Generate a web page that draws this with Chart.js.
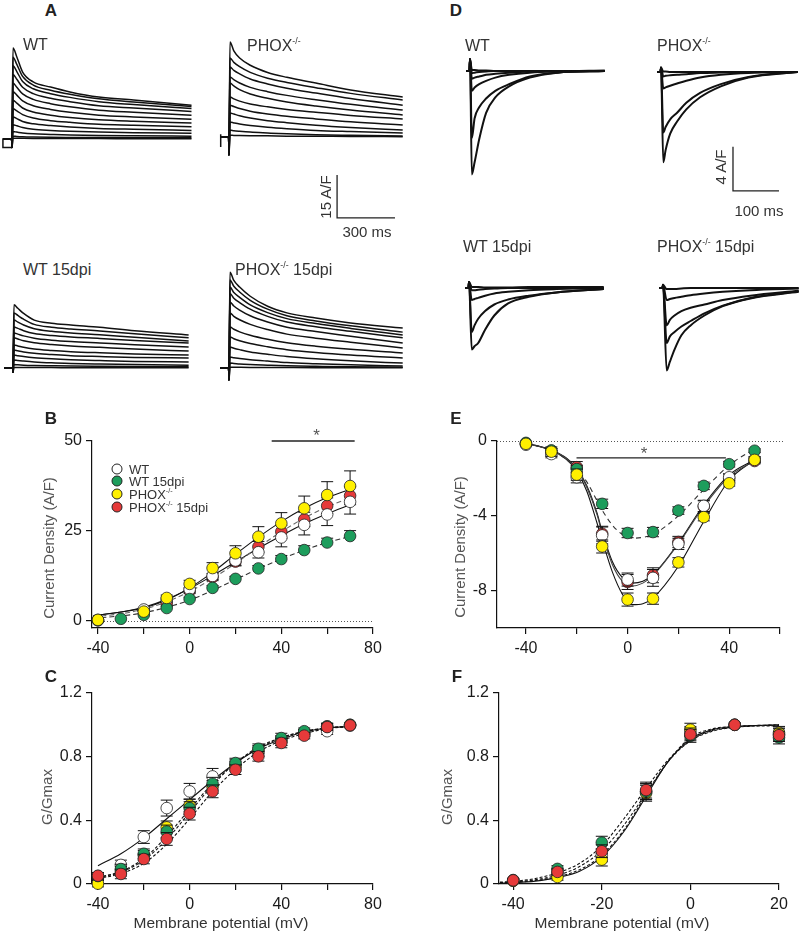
<!DOCTYPE html>
<html>
<head>
<meta charset="utf-8">
<script src="https://cdn.jsdelivr.net/npm/chart.js@4.4.1/dist/chart.umd.min.js"></script>
<style>
  body { margin: 0; background: #fff; }
  #fig { position: relative; width: 800px; height: 932px; overflow: hidden; font-family: "Liberation Sans", Arial, sans-serif; color: #333; }
  #fig canvas { position: absolute; }
  .t { position: absolute; white-space: nowrap; line-height: 1; z-index: 2; }
  .c { transform: translate(-50%, -50%); }
  .l { transform: translate(0, -50%); }
  .r90 { transform: translate(-50%, -50%) rotate(-90deg); }
  .pl { font-weight: bold; font-size: 17px; color: #222; }
  .tl { font-size: 16px; color: #333; }
  .ax { font-size: 15px; color: #555; }
  .xt { font-size: 15.5px; color: #333; }
  .sb { font-size: 15px; color: #333; }
  .lg { font-size: 13px; color: #333; }
  sup { font-size: 0.55em; vertical-align: 0.75em; line-height: 0; }
  .dot { position: absolute; width: 11px; height: 11px; border-radius: 50%; border: 0.8px solid #222; box-sizing: border-box; transform: translate(-50%, -50%); z-index: 2; }
</style>
</head>
<body>
<div id="fig"></div>
<script>
const FONT = '"Liberation Sans", Arial, sans-serif';
const INK = '#111';

const groups = ['WT', 'WT 15dpi', 'PHOX-/-', 'PHOX-/- 15dpi'];
const groupColors = ['#ffffff', '#1d9d5c', '#fff000', '#e63a3a'];

// ---- A: K+ current traces (A/F against ms after the step) ----
const tA_wt = [5, 25, 55, 110, 200, 300, 450, 630, 930];
const A_wt = [
  [31.7, 28.6, 23.3, 19.9, 18.1, 16.4, 14.6, 13.6, 11.8],
  [28.5, 26.0, 21.8, 18.8, 17.0, 15.6, 14.0, 12.9, 11.3],
  [25.5, 23.5, 20.0, 17.5, 15.8, 14.5, 13.0, 12.0, 10.6],
  [22.5, 20.8, 18.0, 15.8, 14.2, 13.0, 11.6, 10.8, 9.6],
  [19.5, 18.0, 15.7, 13.8, 12.3, 11.2, 10.0, 9.3, 8.3],
  [16.5, 15.3, 13.3, 11.6, 10.3, 9.3, 8.3, 7.7, 6.9],
  [13.5, 12.5, 10.8, 9.4, 8.3, 7.5, 6.7, 6.2, 5.6],
  [10.5, 9.8, 8.5, 7.3, 6.4, 5.8, 5.1, 4.8, 4.3],
  [7.7, 7.1, 6.1, 5.3, 4.7, 4.2, 3.7, 3.4, 3.0],
  [5.0, 4.6, 4.0, 3.4, 3.0, 2.7, 2.4, 2.2, 2.0],
  [2.6, 2.4, 2.1, 1.8, 1.6, 1.4, 1.2, 1.1, 1.0],
  [1.0, 0.9, 0.8, 0.7, 0.6, 0.55, 0.5, 0.45, 0.4],
  [0.3, 0.3, 0.25, 0.2, 0.2, 0.15, 0.15, 0.1, 0.1]
];
const stubA_wt = { t: [-2, -47, -47, -2], v: [0, 0, -3, -3] };

const tA_phox = [5, 25, 55, 110, 200, 300, 450, 630, 900];
const A_phox = [
  [33.1, 30.0, 27.5, 25.0, 22.5, 20.8, 18.8, 16.4, 13.9],
  [27.5, 26.0, 24.5, 22.5, 20.5, 19.0, 17.2, 15.2, 12.9],
  [24.4, 23.2, 22.0, 20.2, 18.5, 17.0, 15.3, 13.4, 11.1],
  [20.9, 20.0, 18.8, 17.3, 15.8, 14.5, 13.0, 11.4, 9.4],
  [18.8, 17.8, 16.5, 15.0, 13.5, 12.2, 10.8, 9.4, 7.7],
  [13.9, 13.3, 12.5, 11.5, 10.5, 9.6, 8.6, 7.5, 6.3],
  [11.1, 10.6, 9.9, 9.0, 8.0, 7.2, 6.3, 5.3, 4.2],
  [8.4, 8.0, 7.4, 6.6, 5.7, 5.0, 4.1, 3.3, 2.4],
  [5.2, 4.9, 4.5, 4.0, 3.4, 2.9, 2.3, 1.9, 1.4],
  [2.4, 2.2, 2.0, 1.7, 1.4, 1.1, 0.8, 0.6, 0.35],
  [0.6, 0.55, 0.5, 0.45, 0.4, 0.3, 0.25, 0.2, 0.1]
];
const stubA_phox = { t: [-43, -43, -43], v: [1, -3.5, 0] };

const tA_wt15 = [5, 25, 55, 110, 200, 300, 450, 630, 910];
const A_wt15 = [
  [22.0, 20.8, 19.0, 16.7, 15.6, 15.0, 14.2, 13.0, 11.5],
  [19.2, 18.3, 17.0, 15.2, 14.2, 13.6, 12.9, 11.9, 10.5],
  [16.7, 16.0, 15.0, 13.7, 12.8, 12.2, 11.6, 10.7, 9.4],
  [14.3, 13.8, 13.0, 12.0, 11.3, 10.8, 10.3, 9.6, 8.7],
  [12.2, 11.8, 11.2, 10.4, 9.7, 9.2, 8.7, 8.1, 7.3],
  [10.5, 10.1, 9.5, 8.8, 8.2, 7.7, 7.2, 6.6, 5.9],
  [8.0, 7.7, 7.2, 6.6, 6.1, 5.7, 5.3, 4.9, 4.5],
  [6.3, 6.0, 5.6, 5.1, 4.7, 4.3, 4.0, 3.7, 3.5],
  [4.5, 4.3, 4.0, 3.6, 3.2, 2.9, 2.6, 2.3, 2.1],
  [2.8, 2.6, 2.4, 2.1, 1.8, 1.6, 1.4, 1.2, 1.0],
  [1.2, 1.1, 1.0, 0.9, 0.8, 0.7, 0.6, 0.5, 0.4],
  [0.2, 0.2, 0.2, 0.15, 0.15, 0.1, 0.1, 0.1, 0.1]
];

const tA_phox15 = [5, 25, 55, 110, 200, 300, 450, 630, 900];
const A_phox15 = [
  [33.4, 30.5, 28.2, 25.0, 21.5, 19.2, 17.4, 15.7, 13.9],
  [30.7, 28.5, 26.5, 23.6, 20.5, 18.2, 16.4, 14.7, 12.5],
  [28.2, 26.3, 24.6, 22.0, 19.3, 17.2, 15.5, 13.8, 11.5],
  [26.0, 24.3, 22.8, 20.5, 18.0, 16.0, 14.4, 12.8, 10.5],
  [23.0, 21.6, 20.2, 18.2, 16.0, 14.2, 12.7, 11.1, 8.7],
  [19.2, 18.0, 16.8, 15.2, 13.4, 11.8, 10.4, 9.0, 7.0],
  [14.3, 13.5, 12.6, 11.4, 10.0, 8.8, 7.6, 6.5, 5.2],
  [10.8, 10.2, 9.5, 8.5, 7.4, 6.4, 5.4, 4.5, 3.5],
  [7.3, 6.9, 6.4, 5.6, 4.8, 4.0, 3.2, 2.5, 1.7],
  [3.8, 3.6, 3.3, 2.9, 2.4, 1.9, 1.5, 1.1, 0.7],
  [1.7, 1.6, 1.4, 1.2, 1.0, 0.8, 0.6, 0.4, 0.3],
  [0.3, 0.3, 0.25, 0.2, 0.2, 0.15, 0.1, 0.1, 0.1]
];
const barA = { t: 560, v: -28.2, dt: 300, dv: 15 };

// ---- D: Na+ current traces ----
const tD_wt = [4, 10, 20, 35, 55, 85, 130, 190, 293];
const D_wt = [
  [-9.4, -8.3, -6.2, -3.8, -2.4, -1.4, -0.6, -0.15, 0],
  [-6.1, -4.3, -3.3, -2.5, -1.8, -1.2, -0.5, -0.15, 0],
  [-1.8, -1.5, -1.2, -0.9, -0.6, -0.35, -0.15, -0.05, 0],
  [-0.7, -0.6, -0.5, -0.35, -0.25, -0.15, -0.05, 0, 0],
  [-0.2, -0.15, -0.1, -0.05, 0, 0, 0, 0, 0],
  [0.1, 0.1, 0.05, 0.05, 0, 0, 0, 0, 0.05]
];
const tD_phox = [5, 10, 20, 35, 55, 85, 130, 190, 297];
const D_phox = [
  [-8.2, -7.1, -5.6, -4.5, -3.4, -2.3, -1.3, -0.5, 0],
  [-5.5, -5.0, -4.3, -3.7, -2.8, -1.9, -1.1, -0.45, 0],
  [-1.5, -1.4, -1.25, -1.05, -0.8, -0.5, -0.25, -0.08, 0],
  [-0.4, -0.35, -0.3, -0.25, -0.2, -0.1, -0.05, 0, 0],
  [0.05, 0.05, 0, 0, 0, 0, 0, 0, 0]
];
const tD_wt15 = [6, 12, 20, 35, 55, 85, 130, 190, 293];
const D_wt15 = [
  [-5.6, -5.3, -5.0, -3.8, -2.5, -1.4, -0.8, -0.4, -0.1],
  [-4.0, -3.4, -2.8, -2.1, -1.5, -1.05, -0.7, -0.4, -0.1],
  [-1.1, -1.0, -0.9, -0.7, -0.5, -0.35, -0.2, -0.1, 0],
  [-0.2, -0.2, -0.15, -0.1, -0.05, 0, 0, 0, 0],
  [0.1, 0.1, 0.1, 0.05, 0.05, 0.05, 0.1, 0.1, 0.1]
];
const tD_phox15 = [8, 15, 25, 40, 60, 90, 130, 190, 295];
const D_phox15 = [
  [-7.5, -6.7, -5.6, -4.3, -3.4, -2.5, -1.65, -0.95, -0.35],
  [-5.0, -4.4, -4.0, -3.5, -3.0, -2.3, -1.6, -0.9, -0.3],
  [-3.4, -2.9, -2.5, -2.1, -1.8, -1.5, -1.1, -0.7, -0.25],
  [-1.1, -1.0, -0.9, -0.8, -0.65, -0.5, -0.35, -0.2, -0.05],
  [-0.1, -0.1, -0.1, -0.05, 0, 0, 0, 0, 0]
];
const barD = { t: 156.5, v: -10.8, dt: 100, dv: 4 };

// ---- B: K+ current density against voltage ----
const vB = [-40, -30, -20, -10, 0, 10, 20, 30, 40, 50, 60, 70];
const B_wt = [0.3, null, 3.2, 6.0, 8.8, 12.5, 16.8, 19.1, 23.2, 26.7, 29.6, 33.1];
const B_wt15 = [0.2, 0.6, 1.7, 3.6, 6.1, 9.2, 11.7, 14.6, 17.2, 19.7, 21.8, 23.6];
const B_phox = [0.3, null, 2.6, 6.4, 10.3, 14.7, 18.8, 23.4, 27.1, 31.3, 35.0, 37.5];
const B_phox15 = [0.2, null, 3.0, 5.0, 8.4, 12.2, 16.5, 20.6, 24.8, 28.2, 32.0, 34.8];
const B_wtErr = [0, 0, 0.5, 0.7, 0.8, 1.0, 1.3, 1.6, 2.6, 2.8, 3.1, 3.4];
const B_wt15Err = [0, 0, 0.3, 0.4, 0.5, 0.6, 0.7, 0.8, 1.0, 1.2, 1.2, 1.5];
const B_phoxErr = [0, 0, 0.5, 0.8, 1.0, 1.5, 2.1, 2.8, 3.0, 3.4, 3.7, 4.2];
const B_phox15Err = [0, 0, 0.4, 0.6, 0.8, 1.0, 1.2, 1.5, 1.8, 2.0, 2.2, 2.5];
const fitXB = [-42, -30, -20, -10, 0, 10, 20, 30, 40, 50, 60, 70];
const fitB_wt = [1.5, 2.5, 3.8, 6.0, 9.0, 12.6, 16.4, 20.2, 23.7, 27.0, 29.8, 32.3];
const fitB_wt15 = [0.8, 1.4, 2.3, 3.8, 5.8, 8.5, 11.5, 14.5, 17.2, 19.7, 21.8, 23.5];
const fitB_phox = [1.5, 2.5, 3.6, 5.8, 9.2, 13.5, 18.5, 23.3, 27.6, 31.3, 34.3, 36.6];
const fitB_phox15 = [1.2, 2.0, 3.3, 5.3, 8.2, 11.8, 16.0, 20.5, 24.8, 28.6, 31.7, 34.2];
const xTicksB = [-40, -20, 0, 20, 40, 60, 80];
const xLabelsB = ['-40', '', '0', '', '40', '', '80'];
const yTicksB = [0, 25, 50];
const yLabelsB = ['0', '25', '50'];
const sigB = { from: 35.8, to: 72, y: 50, at: 55.4, mark: '*', lift: 5 };

// ---- C: K+ conductance ----
const vC = [-40, -30, -20, -10, 0, 10, 20, 30, 40, 50, 60, 70];
const C_wt = [0.04, 0.12, 0.295, 0.477, 0.582, 0.676, 0.75, 0.83, 0.9, 0.95, 0.96, 0.995];
const C_wt15 = [0.05, 0.094, 0.19, 0.33, 0.477, 0.63, 0.76, 0.85, 0.917, 0.96, 0.99, 1.0];
const C_phox = [0.002, 0.08, 0.18, 0.356, 0.494, 0.61, 0.74, 0.84, 0.9, 0.95, 0.99, 1.0];
const C_phox15 = [0.052, 0.063, 0.157, 0.283, 0.442, 0.582, 0.718, 0.802, 0.886, 0.932, 0.986, 0.997];
const C_wtErr = [0.02, 0.03, 0.04, 0.05, 0.05, 0.05, 0.03, 0.03, 0.03, 0.02, 0.02, 0];
const C_err = [0.02, 0.03, 0.03, 0.04, 0.04, 0.04, 0.03, 0.03, 0.03, 0.02, 0.02, 0];
const fitXC_wt = [-40, -30, -20, -10, 0, 10, 20, 30, 40, 50, 60, 70];
const fitXC = [-42, -30, -20, -10, 0, 10, 20, 30, 40, 50, 60, 70];
const fitC_wt = [0.115, 0.19, 0.29, 0.41, 0.53, 0.65, 0.76, 0.85, 0.91, 0.955, 0.98, 0.99];
const fitC_wt15 = [0.035, 0.08, 0.16, 0.3, 0.47, 0.63, 0.76, 0.86, 0.92, 0.96, 0.98, 0.99];
const fitC_phox = [0.035, 0.075, 0.15, 0.28, 0.45, 0.62, 0.76, 0.85, 0.92, 0.955, 0.98, 0.99];
const fitC_phox15 = [0.03, 0.065, 0.13, 0.25, 0.41, 0.58, 0.72, 0.83, 0.9, 0.945, 0.975, 0.99];
const yTicksG = [0, 0.4, 0.8, 1.2];
const yLabelsG = ['0', '0.4', '0.8', '1.2'];

// ---- E: Na+ current density against voltage ----
const vE = [-40, -30, -20, -10, 0, 10, 20, 30, 40, 50];
const E_wt = [-0.2, -0.7, -1.94, -5.05, -7.41, -7.32, -5.5, -3.47, -1.94, -0.98];
const E_wt15 = [-0.1, -0.5, -1.5, -3.36, -4.92, -4.87, -3.72, -2.4, -1.24, -0.52];
const E_phox = [-0.15, -0.57, -1.8, -5.64, -8.48, -8.43, -6.49, -4.07, -2.26, -1.01];
const E_phox15 = [-0.15, -0.6, -1.4, -4.96, -7.54, -7.18, -5.4, -3.5, -2.0, -1.07];
const E_wtErr = [0.05, 0.2, 0.3, 0.45, 0.35, 0.45, 0.3, 0.3, 0.2, 0.15];
const E_wt15Err = [0.05, 0.1, 0.2, 0.25, 0.25, 0.25, 0.2, 0.2, 0.15, 0.1];
const E_phoxErr = [0.05, 0.25, 0.3, 0.35, 0.35, 0.3, 0.25, 0.2, 0.15, 0.15];
const E_phox15Err = [0.05, 0.2, 0.3, 0.4, 0.4, 0.4, 0.3, 0.3, 0.2, 0.15];
const fitXE = [-40, -30, -24, -20, -16, -12, -10, -6, -2, 2, 6, 10, 20, 30, 40, 50];
const fitE_wt = [-0.12, -0.48, -0.92, -1.46, -2.4, -3.86, -4.84, -6.44, -7.3, -7.6, -7.5, -7.15, -5.46, -3.41, -1.81, -1.0];
const fitE_wt15 = [-0.1, -0.5, -1.0, -1.5, -2.2, -3.2, -3.7, -4.5, -5.0, -5.2, -5.15, -5.0, -4.0, -2.6, -1.3, -0.4];
const fitE_phox = [-0.12, -0.5, -1.0, -1.6, -2.7, -4.4, -5.3, -7.0, -8.2, -8.75, -8.7, -8.4, -6.7, -4.3, -2.1, -1.0];
const fitE_phox15 = [-0.12, -0.5, -0.95, -1.5, -2.5, -3.95, -4.95, -6.6, -7.5, -7.75, -7.6, -7.2, -5.5, -3.5, -1.9, -1.05];
const xTicksE = [-40, -20, 0, 20, 40, 60];
const xLabelsE = ['-40', '', '0', '', '40', ''];
const yTicksE = [-8, -4, 0];
const yLabelsE = ['-8', '-4', '0'];
const sigE = { from: -20.1, to: 38.7, y: -0.9, at: 6.5, mark: '*', lift: 4 };

// ---- F: Na+ conductance ----
const vF = [-40, -30, -20, -10, 0, 10, 20];
const F_wt = [0.02, 0.07, 0.18, 0.58, 0.95, 1.0, 0.94];
const F_wt15 = [0.025, 0.095, 0.26, 0.58, 0.93, 1.0, 0.92];
const F_phox = [0.02, 0.044, 0.153, 0.57, 0.97, 1.0, 0.95];
const F_phox15 = [0.023, 0.076, 0.206, 0.59, 0.94, 1.0, 0.935];
const F_err = [0.01, 0.02, 0.04, 0.05, 0.04, 0, 0.04];
const fitXF = [-43, -40, -35, -30, -25, -20, -15, -10, -5, 0, 5, 10, 20];
const fitF_wt = [0.005, 0.008, 0.018, 0.04, 0.08, 0.17, 0.33, 0.55, 0.77, 0.91, 0.97, 0.99, 1.0];
const fitF_wt15 = [0.012, 0.016, 0.035, 0.07, 0.13, 0.24, 0.41, 0.6, 0.78, 0.9, 0.96, 0.985, 1.0];
const fitF_phox = [0.007, 0.01, 0.022, 0.045, 0.09, 0.18, 0.34, 0.56, 0.77, 0.92, 0.975, 0.99, 1.0];
const fitF_phox15 = [0.009, 0.012, 0.027, 0.055, 0.11, 0.21, 0.37, 0.57, 0.77, 0.9, 0.965, 0.985, 0.995];
const xTicksF = [-40, -20, 0, 20];
const xLabelsF = ['-40', '-20', '0', '20'];

// ---------------------------------------------------------------
const fig = document.getElementById('fig');
const pts = (xs, ys) => xs.map((x, i) => ({ x, y: ys[i] }));

function addCanvas(box) {
  const c = document.createElement('canvas');
  c.width = box.w;
  c.height = box.h;
  c.style.left = box.x + 'px';
  c.style.top = box.y + 'px';
  c.style.width = box.w + 'px';
  c.style.height = box.h + 'px';
  fig.appendChild(c);
  return c;
}

const scaleBar = {
  id: 'scaleBar',
  afterDraw(chart, args, o) {
    if (!o || o.dt === undefined) return;
    const { x, y } = chart.scales;
    const ctx = chart.ctx;
    ctx.save();
    ctx.strokeStyle = '#222';
    ctx.lineWidth = 1.3;
    ctx.beginPath();
    ctx.moveTo(x.getPixelForValue(o.t), y.getPixelForValue(o.v + o.dv));
    ctx.lineTo(x.getPixelForValue(o.t), y.getPixelForValue(o.v));
    ctx.lineTo(x.getPixelForValue(o.t + o.dt), y.getPixelForValue(o.v));
    ctx.stroke();
    ctx.restore();
  }
};

// one panel of raw traces; axes hidden, scale set by the pixel size of the bars
function traceChart(p) {
  const b = p.box;
  const xmin = (b.x - p.x0) / p.pxMs, xmax = (b.x + b.w - p.x0) / p.pxMs;
  const ymax = (p.y0 - b.y) / p.pxAF, ymin = (p.y0 - b.y - b.h) / p.pxAF;
  const ts = [p.lead, p.pre, 0, ...p.times];
  const line = { borderColor: INK, borderWidth: p.lw, pointRadius: 0, fill: false };
  const datasets = p.traces.map((vals) => ({
    ...line,
    data: pts(ts, [0, 0, p.spike, ...vals]),
    cubicInterpolationMode: 'monotone'
  }));
  if (p.stub) datasets.push({ ...line, data: pts(p.stub.t, p.stub.v), tension: 0 });
  new Chart(addCanvas(b), {
    type: 'line',
    data: { datasets },
    options: {
      responsive: false, animation: false, events: [],
      layout: { padding: 0 },
      scales: {
        x: { type: 'linear', display: false, min: xmin, max: xmax },
        y: { type: 'linear', display: false, min: ymin, max: ymax }
      },
      plugins: { legend: { display: false }, tooltip: { enabled: false }, scaleBar: p.bar || false }
    },
    plugins: [scaleBar]
  });
}

const errorBars = {
  id: 'errorBars',
  beforeDatasetDraw(chart, args) {
    const ds = chart.data.datasets[args.index];
    if (!ds.err) return;
    const ys = chart.scales.y, ctx = chart.ctx;
    ctx.save();
    ctx.strokeStyle = INK;
    ctx.lineWidth = 1;
    args.meta.data.forEach((pt, i) => {
      const e = ds.err[i], v = ds.data[i].y;
      if (!e || v === null || pt.skip) return;
      const top = ds.errDir === 'down' ? pt.y : ys.getPixelForValue(v + e);
      const bot = ds.errDir === 'up' ? pt.y : ys.getPixelForValue(v - e);
      ctx.beginPath();
      ctx.moveTo(pt.x, top); ctx.lineTo(pt.x, bot);
      if (ds.errDir !== 'down') { ctx.moveTo(pt.x - 6, top); ctx.lineTo(pt.x + 6, top); }
      if (ds.errDir !== 'up') { ctx.moveTo(pt.x - 6, bot); ctx.lineTo(pt.x + 6, bot); }
      ctx.stroke();
    });
    ctx.restore();
  }
};

const marks = {
  id: 'marks',
  beforeDatasetsDraw(chart, args, o) {
    const { ctx, chartArea: a, scales: { x, y } } = chart;
    ctx.save();
    if (o.zero) {
      const py = Math.round(y.getPixelForValue(0)) + 0.5;
      ctx.strokeStyle = '#555';
      ctx.lineWidth = 1;
      ctx.setLineDash([1, 2]);
      ctx.beginPath();
      ctx.moveTo(a.left, py);
      ctx.lineTo(a.right + (o.zeroExtra || 0), py);
      ctx.stroke();
      ctx.setLineDash([]);
    }
    if (o.sig) {
      const s = o.sig, py = y.getPixelForValue(s.y);
      ctx.strokeStyle = '#222';
      ctx.lineWidth = 1.4;
      ctx.beginPath();
      ctx.moveTo(x.getPixelForValue(s.from), py);
      ctx.lineTo(x.getPixelForValue(s.to), py);
      ctx.stroke();
      ctx.fillStyle = '#555';
      ctx.font = '17px ' + FONT;
      ctx.textAlign = 'center';
      ctx.textBaseline = 'middle';
      ctx.fillText(s.mark, x.getPixelForValue(s.at), py - s.lift);
    }
    ctx.restore();
  }
};

function axis(a, size, vertical) {
  return {
    type: 'linear', min: a.min, max: a.max, bounds: 'data',
    afterBuildTicks: (s) => { s.ticks = a.ticks.map((v) => ({ value: v })); },
    afterFit: (s) => { if (vertical) s.width = size; else s.height = size; },
    border: { display: true, color: INK, width: 1.2 },
    grid: { display: true, drawOnChartArea: false, drawTicks: true, tickLength: 6, color: INK, lineWidth: 1.2 },
    ticks: {
      autoSkip: false, maxRotation: 0, color: '#1a1a1a', padding: vertical ? 4 : 5,
      font: { family: FONT, size: 16 },
      callback: (v, i) => a.labels[i]
    }
  };
}

// one I-V / G-V panel; box = canvas, area = where the axes sit on the page
function ivChart(p) {
  const yW = p.area.l - p.box.x, xH = p.box.y + p.box.h - p.area.b;
  const padTop = p.area.t - p.box.y, padRight = p.box.x + p.box.w - p.area.r;
  const datasets = [];
  p.fits.forEach((f) => datasets.push({
    data: pts(f.xs, f.ys), pointRadius: 0, borderColor: f.color || INK,
    borderWidth: 1.1, borderDash: f.dash, cubicInterpolationMode: 'monotone',
    fill: false, order: 20, clip: false
  }));
  p.points.forEach((s) => datasets.push({
    label: groups[s.g], data: pts(p.xs, s.ys), showLine: false,
    pointRadius: 5.8, pointBackgroundColor: groupColors[s.g],
    pointBorderColor: '#222', pointBorderWidth: 0.8,
    err: s.err, errDir: s.dir, order: s.order, clip: false
  }));
  new Chart(addCanvas(p.box), {
    type: 'line',
    data: { datasets },
    options: {
      responsive: false, animation: false, events: [],
      layout: { padding: { top: padTop, right: padRight, left: 0, bottom: 0 } },
      scales: { x: axis(p.x, xH, false), y: axis(p.y, yW, true) },
      plugins: { legend: { display: false }, tooltip: { enabled: false }, marks: p.marks }
    },
    plugins: [errorBars, marks]
  });
}

// ---- A traces ----
const kScale = { pxMs: 0.193, pxAF: 2.87, lw: 1.5, lead: -45, pre: -2 };
traceChart({ ...kScale, box: { x: 0, y: 40, w: 200, h: 115 }, x0: 12, y0: 139, times: tA_wt, traces: A_wt, spike: -3, stub: stubA_wt });
traceChart({ ...kScale, box: { x: 210, y: 30, w: 200, h: 200 }, x0: 229, y0: 137, times: tA_phox, traces: A_phox, spike: -6.3, stub: stubA_phox, bar: barA });
traceChart({ ...kScale, box: { x: 0, y: 290, w: 200, h: 95 }, x0: 13, y0: 368, times: tA_wt15, traces: A_wt15, spike: -1.5 });
traceChart({ ...kScale, box: { x: 210, y: 255, w: 200, h: 130 }, x0: 229, y0: 368, times: tA_phox15, traces: A_phox15, spike: -4.2 });

// ---- D traces ----
const naScale = { pxMs: 0.46, pxAF: 11, lw: 2, lead: -8, pre: -1 };
traceChart({ ...naScale, box: { x: 455, y: 45, w: 160, h: 140 }, x0: 470, y0: 71, times: tD_wt, traces: D_wt, spike: 1.1 });
traceChart({ ...naScale, box: { x: 645, y: 45, w: 155, h: 150 }, x0: 661, y0: 72, times: tD_phox, traces: D_phox, spike: 0.4, bar: barD });
traceChart({ ...naScale, box: { x: 455, y: 270, w: 160, h: 100 }, x0: 469, y0: 288, times: tD_wt15, traces: D_wt15, spike: 0.55 });
traceChart({ ...naScale, box: { x: 645, y: 270, w: 155, h: 115 }, x0: 663, y0: 288, times: tD_phox15, traces: D_phox15, spike: 0.3 });

// ---- B ----
ivChart({
  box: { x: 40, y: 415, w: 360, h: 245 }, area: { l: 92, t: 441, r: 373, b: 628 },
  x: { min: -42.6, max: 80, ticks: xTicksB, labels: xLabelsB },
  y: { min: -1.95, max: 50, ticks: yTicksB, labels: yLabelsB },
  xs: vB,
  fits: [
    { xs: fitXB, ys: fitB_phox15, dash: [5, 3], color: '#666' },
    { xs: fitXB, ys: fitB_wt15, dash: [5, 3], color: '#333' },
    { xs: fitXB, ys: fitB_wt, dash: [] },
    { xs: fitXB, ys: fitB_phox, dash: [] }
  ],
  points: [
    { g: 3, ys: B_phox15, err: B_phox15Err, dir: 'both', order: 3 },
    { g: 0, ys: B_wt, err: B_wtErr, dir: 'down', order: 2 },
    { g: 1, ys: B_wt15, err: B_wt15Err, dir: 'up', order: 1 },
    { g: 2, ys: B_phox, err: B_phoxErr, dir: 'up', order: 0 }
  ],
  marks: { zero: true, zeroExtra: 0, sig: sigB }
});

// ---- C ----
ivChart({
  box: { x: 40, y: 675, w: 360, h: 240 }, area: { l: 92, t: 693, r: 373, b: 884 },
  x: { min: -42.6, max: 80, ticks: xTicksB, labels: xLabelsB },
  y: { min: 0, max: 1.2, ticks: yTicksG, labels: yLabelsG },
  xs: vC,
  fits: [
    { xs: fitXC_wt, ys: fitC_wt, dash: [] },
    { xs: fitXC, ys: fitC_wt15, dash: [3, 2] },
    { xs: fitXC, ys: fitC_phox, dash: [3, 2] },
    { xs: fitXC, ys: fitC_phox15, dash: [3, 2] }
  ],
  points: [
    { g: 0, ys: C_wt, err: C_wtErr, dir: 'both', order: 3 },
    { g: 2, ys: C_phox, err: C_err, dir: 'both', order: 2 },
    { g: 1, ys: C_wt15, err: C_err, dir: 'both', order: 1 },
    { g: 3, ys: C_phox15, err: C_err, dir: 'both', order: 0 }
  ],
  marks: { zero: false }
});

// ---- E ----
ivChart({
  box: { x: 450, y: 415, w: 345, h: 245 }, area: { l: 497, t: 441, r: 780, b: 628 },
  x: { min: -51.4, max: 60, ticks: xTicksE, labels: xLabelsE },
  y: { min: -10, max: 0, ticks: yTicksE, labels: yLabelsE },
  xs: vE,
  fits: [
    { xs: fitXE, ys: fitE_wt15, dash: [5, 4], color: '#333' },
    { xs: fitXE, ys: fitE_phox15, dash: [], color: '#444' },
    { xs: fitXE, ys: fitE_wt, dash: [] },
    { xs: fitXE, ys: fitE_phox, dash: [] }
  ],
  points: [
    { g: 3, ys: E_phox15, err: E_phox15Err, dir: 'both', order: 3 },
    { g: 0, ys: E_wt, err: E_wtErr, dir: 'both', order: 2 },
    { g: 1, ys: E_wt15, err: E_wt15Err, dir: 'both', order: 1 },
    { g: 2, ys: E_phox, err: E_phoxErr, dir: 'both', order: 0 }
  ],
  marks: { zero: true, zeroExtra: 3, sig: sigE }
});

// ---- F ----
ivChart({
  box: { x: 450, y: 675, w: 345, h: 240 }, area: { l: 499, t: 693, r: 779, b: 884 },
  x: { min: -43.2, max: 20, ticks: xTicksF, labels: xLabelsF },
  y: { min: 0, max: 1.2, ticks: yTicksG, labels: yLabelsG },
  xs: vF,
  fits: [
    { xs: fitXF, ys: fitF_wt, dash: [] },
    { xs: fitXF, ys: fitF_wt15, dash: [3, 2] },
    { xs: fitXF, ys: fitF_phox, dash: [3, 2] },
    { xs: fitXF, ys: fitF_phox15, dash: [3, 2] }
  ],
  points: [
    { g: 0, ys: F_wt, err: F_err, dir: 'both', order: 3 },
    { g: 2, ys: F_phox, err: F_err, dir: 'both', order: 2 },
    { g: 1, ys: F_wt15, err: F_err, dir: 'both', order: 1 },
    { g: 3, ys: F_phox15, err: F_err, dir: 'both', order: 0 }
  ],
  marks: { zero: false }
});

// ---- text ----
const sup = (s) => s.replace('-/-', '<sup>-/-</sup>');
function txt(html, x, y, cls) {
  const d = document.createElement('div');
  d.className = 't ' + cls;
  d.style.left = x + 'px';
  d.style.top = y + 'px';
  d.innerHTML = html;
  fig.appendChild(d);
}
[['A', 51, 10], ['D', 456, 10], ['B', 51, 418], ['C', 51, 676], ['E', 456, 418], ['F', 457, 676]]
  .forEach(([s, x, y]) => txt(s, x, y, 'pl c'));

[[groups[0], 23, 45], [groups[2], 247, 46], [groups[1], 23, 270], [groups[3], 235, 270],
 [groups[0], 465, 46], [groups[2], 657, 46], [groups[1], 463, 247], [groups[3], 657, 247]]
  .forEach(([s, x, y]) => txt(sup(s), x, y, 'tl l'));

txt('15 A/F', 325, 197, 'sb r90');
txt('300 ms', 367, 231, 'sb c');
txt('4 A/F', 720, 167, 'sb r90');
txt('100 ms', 759, 210, 'sb c');

txt('Current Density (A/F)', 48, 548, 'ax r90');
txt('G/Gmax', 46, 797, 'ax r90');
txt('Current Density (A/F)', 459, 547, 'ax r90');
txt('G/Gmax', 446, 797, 'ax r90');
txt('Membrane potential (mV)', 221, 923, 'xt c');
txt('Membrane potential (mV)', 622, 923, 'xt c');

// legend of panel B
const legendY = [469, 481, 494, 507];
groups.forEach((g, i) => {
  const d = document.createElement('div');
  d.className = 'dot';
  d.style.left = '117px';
  d.style.top = legendY[i] + 'px';
  d.style.background = groupColors[i];
  fig.appendChild(d);
  txt(sup(g), 129, legendY[i], 'lg l');
});
</script>
</body>
</html>
